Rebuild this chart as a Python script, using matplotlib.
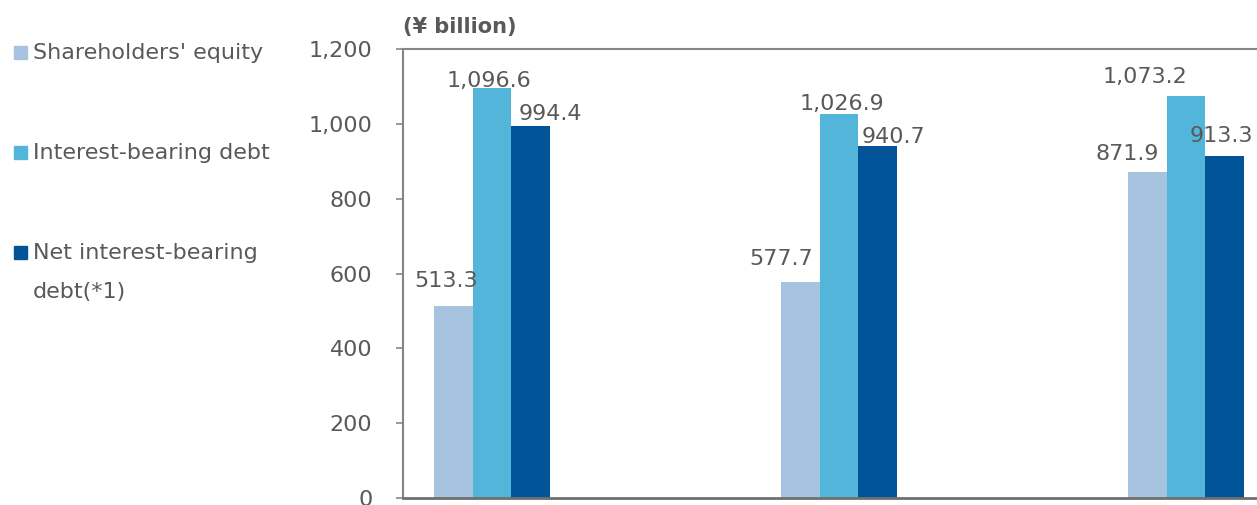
import matplotlib.pyplot as plt
import numpy as np
from matplotlib.patches import Rectangle

# values in ¥ billion, three periods (x labels are cut off in the source)
periods = ['Period 1', 'Period 2', 'Period 3']
equity = [513.3, 577.7, 871.9]
debt = [1096.6, 1026.9, 1073.2]
net_debt = [994.4, 940.7, 913.3]
series_names = ["Shareholders' equity", 'Interest-bearing debt', 'Net interest-bearing\ndebt(*1)']
y_ticks = [0, 200, 400, 600, 800, 1000, 1200]

colors = ['#A6C4E0', '#53B5D9', '#005497']
text_col = '#595959'

# hand-placed label nudges, in pixels (dx, baseline gap above bar)
label_dx = [[-7, -19, -20], [-3, 3, -41], [20, 16, -3]]
label_dy = [[19, 17, 12], [1, 4, 13], [6, 3, 14]]

fig = plt.figure(figsize=(12.57, 5.05), dpi=100)
W, H = 1257, 505
ax = fig.add_axes([403 / W, 7 / H, (W - 403) / W, 449 / H])

x = np.arange(len(periods))
width = 0.111
all_series = [equity, debt, net_debt]
for i, vals in enumerate(all_series):
    xs = x + (i - 1) * width
    ax.bar(xs, vals, width, color=colors[i], zorder=2)
    for j, v in enumerate(vals):
        ax.annotate(f'{v:,.1f}', (xs[j], v), xytext=(label_dx[i][j], label_dy[i][j]),
                    textcoords='offset pixels', ha='center', va='baseline',
                    fontsize=16, color=text_col)

ax.set_xlim(-0.2565, 2.2046)
ax.set_ylim(0, 1200)
ax.set_xticks([])
ax.set_yticks(y_ticks)
ax.set_yticklabels([f'{t:,}' for t in y_ticks])
ax.tick_params(axis='y', length=5, width=1.2, color='#868686', pad=17,
               labelsize=16, labelcolor=text_col)

ax.spines['right'].set_visible(False)
ax.spines['left'].set_color('#868686')
ax.spines['left'].set_linewidth(1.5)
ax.spines['top'].set_color('#868686')
ax.spines['top'].set_linewidth(1.5)
ax.spines['bottom'].set_color('#6f6f6f')
ax.spines['bottom'].set_linewidth(2)

fig.text(403 / W, 1 - 33 / H, '(¥ billion)', fontsize=15, fontweight='bold',
         color=text_col, ha='left', va='baseline')

# legend drawn by hand on the left
leg_y = [53, 153, 253]
for i, name in enumerate(series_names):
    fig.patches.append(Rectangle((14 / W, 1 - (leg_y[i] + 6) / H), 13 / W, 13 / H,
                                 transform=fig.transFigure, color=colors[i]))
    for k, line in enumerate(name.split('\n')):
        fig.text(33 / W, 1 - (leg_y[i] + 39 * k) / H, line, fontsize=16,
                 color=text_col, ha='left', va='center')

fig.savefig('out.png', dpi=100)
